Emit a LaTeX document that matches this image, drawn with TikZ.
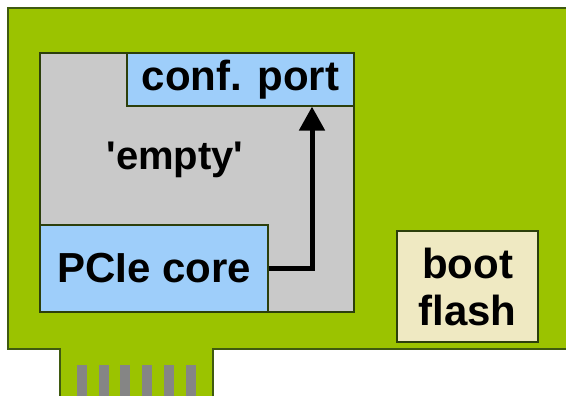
\documentclass[tikz,border=0pt]{standalone}
\usepackage{fontspec}
\setmainfont{Liberation Sans}
\usepackage{tikz}
\usetikzlibrary{shapes,arrows.meta,positioning,calc}
\usepackage{xcolor}

\definecolor{boardgreen}{HTML}{9BC300}
\definecolor{boardedge}{HTML}{3F5A10}
\definecolor{blockblue}{HTML}{9ECEFA}
\definecolor{blockgrey}{HTML}{C9C9C9}
\definecolor{flashbeige}{HTML}{EFE9C2}
\definecolor{fingergrey}{HTML}{858585}

\tikzset{
  block/.style={draw=boardedge!70!black,line width=1.2pt,inner sep=0pt,
                font=\fontsize{42}{47}\selectfont\bfseries,align=center},
  corebox/.style={block,fill=blockblue},
  chipbox/.style={block,fill=blockgrey},
  flashbox/.style={block,fill=flashbeige}
}

\begin{document}
\begin{tikzpicture}[x=1pt,y=-1pt]
                \useasboundingbox (0,0) rectangle (566,396);
                % card with edge connector
                \draw[fill=boardgreen,draw=boardedge,line width=1.2pt]
                  (8,8) -- (572,8) -- (572,349) -- (213,349) -- (213,402)
                  -- (60,402) -- (60,349) -- (8,349) -- cycle;
                \foreach \i in {0,...,5}
                  \fill[fingergrey] ({77+21.7*\i},365) rectangle ++(10,40);
                % FPGA
                \node[chipbox,minimum width=314pt,minimum height=259pt] (fpga) at (197,182.5) {};
                \node[corebox,minimum width=227pt,minimum height=53pt] (port) at (240.5,79.5) {conf. port};
                \node[corebox,minimum width=228pt,minimum height=87pt] (core) at (154,268.5) {PCIe core};
                \node[font=\fontsize{40}{44}\selectfont\bfseries] (empty) at (175,160) {\textquotesingle empty\textquotesingle};
                \coordinate (bend) at (312,268.5);
                \draw[-{Triangle[length=24pt,width=25pt]},line width=5pt]
                  (core.east) -- (bend) -- (bend |- port.south);
                % flash
                \node[flashbox,minimum width=141pt,minimum height=111pt] (flash) at (467.5,286.5) {boot\\flash};
            \end{tikzpicture}
\end{document}
